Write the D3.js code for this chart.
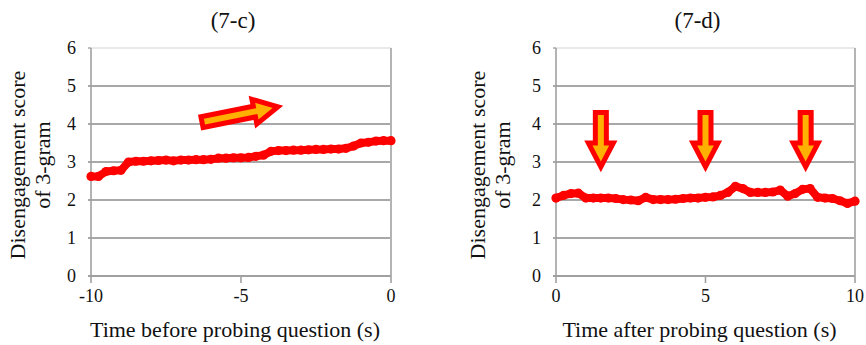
<!DOCTYPE html>
<html><head><meta charset="utf-8">
<script src="https://cdn.jsdelivr.net/npm/d3@7"></script>
<style>
body{margin:0;background:#fff;}
</style></head>
<body><svg id="c" width="866" height="345"></svg>
<script>
// ---- data ----
const timeBefore = [-10,-9.75,-9.5,-9.25,-9,-8.75,-8.5,-8.25,-8,-7.75,-7.5,-7.25,-7,-6.75,-6.5,-6.25,-6,-5.75,-5.5,-5.25,-5,-4.75,-4.5,-4.25,-4,-3.75,-3.5,-3.25,-3,-2.75,-2.5,-2.25,-2,-1.75,-1.5,-1.25,-1,-0.75,-0.5,-0.25,0];
const scoreBefore = [2.62,2.62,2.75,2.77,2.78,3.0,3.02,3.02,3.03,3.04,3.05,3.03,3.05,3.05,3.06,3.06,3.07,3.1,3.1,3.11,3.11,3.12,3.15,3.18,3.28,3.3,3.3,3.31,3.31,3.32,3.33,3.33,3.34,3.34,3.36,3.42,3.5,3.52,3.55,3.56,3.56];
const timeAfter = [0,0.25,0.5,0.75,1,1.25,1.5,1.75,2,2.25,2.5,2.75,3,3.25,3.5,3.75,4,4.25,4.5,4.75,5,5.25,5.5,5.75,6,6.25,6.5,6.75,7,7.25,7.5,7.75,8,8.25,8.5,8.75,9,9.25,9.5,9.75,10];
const scoreAfter = [2.05,2.12,2.17,2.18,2.05,2.05,2.05,2.05,2.04,2.01,2.0,1.98,2.07,2.01,2.01,2.01,2.02,2.04,2.05,2.05,2.07,2.08,2.12,2.2,2.36,2.3,2.2,2.2,2.2,2.21,2.26,2.1,2.17,2.28,2.3,2.07,2.05,2.04,1.98,1.91,1.97];
const yTicks = [0,1,2,3,4,5,6];
const xTicksBefore = [-10,-5,0];
const xTicksAfter = [0,5,10];
const titles = ["(7-c)","(7-d)"];
const xTitles = ["Time before probing question (s)","Time after probing question (s)"];
const yTitle = ["Disengagement score","of 3-gram"];
// annotation arrows: [x start, y start, x end, y end] in data units
const upArrow = [[-6.3,4.05,-3.77,4.45]];
const downArrows = [[1.5,4.3,1.5,2.87],[5.0,4.3,5.0,2.87],[8.35,4.3,8.35,2.87]];

const FONT = "Liberation Serif";
const svg = d3.select("#c");
const panels = [
  {x0:91,x1:391,dom:[-10,0],ticks:xTicksBefore,tx:timeBefore,ty:scoreBefore,title:titles[0],xt:xTitles[0],yl1:25,yl2:50,arrows:upArrow},
  {x0:556,x1:855,dom:[0,10],ticks:xTicksAfter,tx:timeAfter,ty:scoreAfter,title:titles[1],xt:xTitles[1],yl1:485,yl2:510,arrows:downArrows}
];
const yTop=48, yBot=276;

function arrowPath(x1,y1,x2,y2){
  const dx=x2-x1, dy=y2-y1, L=Math.hypot(dx,dy);
  const ux=dx/L, uy=dy/L, nx=-uy, ny=ux;
  const hw=5.5, hh=12.5, hl=24;
  const bx=x2-ux*hl, by=y2-uy*hl;
  const pts=[[x1+nx*hw,y1+ny*hw],[bx+nx*hw,by+ny*hw],[bx+nx*hh,by+ny*hh],[x2,y2],[bx-nx*hh,by-ny*hh],[bx-nx*hw,by-ny*hw],[x1-nx*hw,y1-ny*hw]];
  return "M"+pts.map(p=>p.join(",")).join("L")+"Z";
}

panels.forEach(p=>{
  const x=d3.scaleLinear().domain(p.dom).range([p.x0,p.x1]);
  const y=d3.scaleLinear().domain([0,6]).range([yBot,yTop]);
  const g=svg.append("g");
  g.append("line").attr("x1",p.x0).attr("x2",p.x1).attr("y1",yTop).attr("y2",yTop).attr("stroke","#d4d4d4").attr("stroke-width",1.2);
  g.selectAll(".grid").data(yTicks.filter(v=>v>0 && v<6)).join("line")
    .attr("x1",p.x0-3).attr("x2",p.x1).attr("y1",d=>y(d)).attr("y2",d=>y(d))
    .attr("stroke","#a8a8a8").attr("stroke-width",2);
  g.append("line").attr("x1",p.x0-3).attr("x2",p.x0).attr("y1",yTop).attr("y2",yTop).attr("stroke","#a8a8a8").attr("stroke-width",1.5);
  g.append("line").attr("x1",p.x1).attr("x2",p.x1).attr("y1",yTop).attr("y2",yBot).attr("stroke","#b4b4b4").attr("stroke-width",2);
  g.append("line").attr("x1",p.x0).attr("x2",p.x0).attr("y1",yTop).attr("y2",yBot).attr("stroke","#a0a0a0").attr("stroke-width",1.6);
  g.append("line").attr("x1",p.x0-3).attr("x2",p.x1).attr("y1",yBot).attr("y2",yBot).attr("stroke","#a0a0a0").attr("stroke-width",1.8);
  g.selectAll(".xt").data(p.ticks).join("line")
    .attr("x1",d=>x(d)).attr("x2",d=>x(d)).attr("y1",yBot).attr("y2",yBot+7)
    .attr("stroke","#a0a0a0").attr("stroke-width",1.6);
  g.selectAll(".yl").data(yTicks).join("text").attr("font-family",FONT)
    .attr("x",p.x0-15).attr("y",d=>y(d)+6).attr("text-anchor","end").attr("font-size",18).attr("fill","#111").text(d=>d);
  g.selectAll(".xl").data(p.ticks).join("text").attr("font-family",FONT)
    .attr("x",d=>x(d)).attr("y",302).attr("text-anchor","middle").attr("font-size",18).attr("fill","#111").text(d=>d);
  g.append("text").attr("font-family",FONT).attr("x",(p.x0+p.x1)/2-8).attr("y",28).attr("text-anchor","middle").attr("font-size",23).attr("fill","#111").text(p.title);
  g.append("text").attr("font-family",FONT).attr("x",(p.x0+p.x1)/2-6).attr("y",337).attr("text-anchor","middle").attr("font-size",22).attr("fill","#111").text(p.xt);
  g.append("text").attr("font-family",FONT).attr("transform",`translate(${p.yl1},165) rotate(-90)`).attr("text-anchor","middle").attr("font-size",22).attr("fill","#111").text(yTitle[0]);
  g.append("text").attr("font-family",FONT).attr("transform",`translate(${p.yl2},165) rotate(-90)`).attr("text-anchor","middle").attr("font-size",22).attr("fill","#111").text(yTitle[1]);
  const pts=p.tx.map((t,i)=>[t,p.ty[i]]);
  g.append("path").datum(pts)
    .attr("d",d3.line().x(d=>x(d[0])).y(d=>y(d[1])))
    .attr("fill","none").attr("stroke","#ff0000").attr("stroke-width",8).attr("stroke-linejoin","round").attr("stroke-linecap","round");
  g.selectAll(".pt").data(pts).join("circle")
    .attr("cx",d=>x(d[0])).attr("cy",d=>y(d[1])).attr("r",4.6).attr("fill","#ff0000");
  g.selectAll(".arr").data(p.arrows).join("path")
    .attr("d",a=>arrowPath(x(a[0]),y(a[1]),x(a[2]),y(a[3])))
    .attr("fill","#ffb000").attr("stroke","#ff0000").attr("stroke-width",5).attr("stroke-linejoin","miter");
});
</script></body></html>
